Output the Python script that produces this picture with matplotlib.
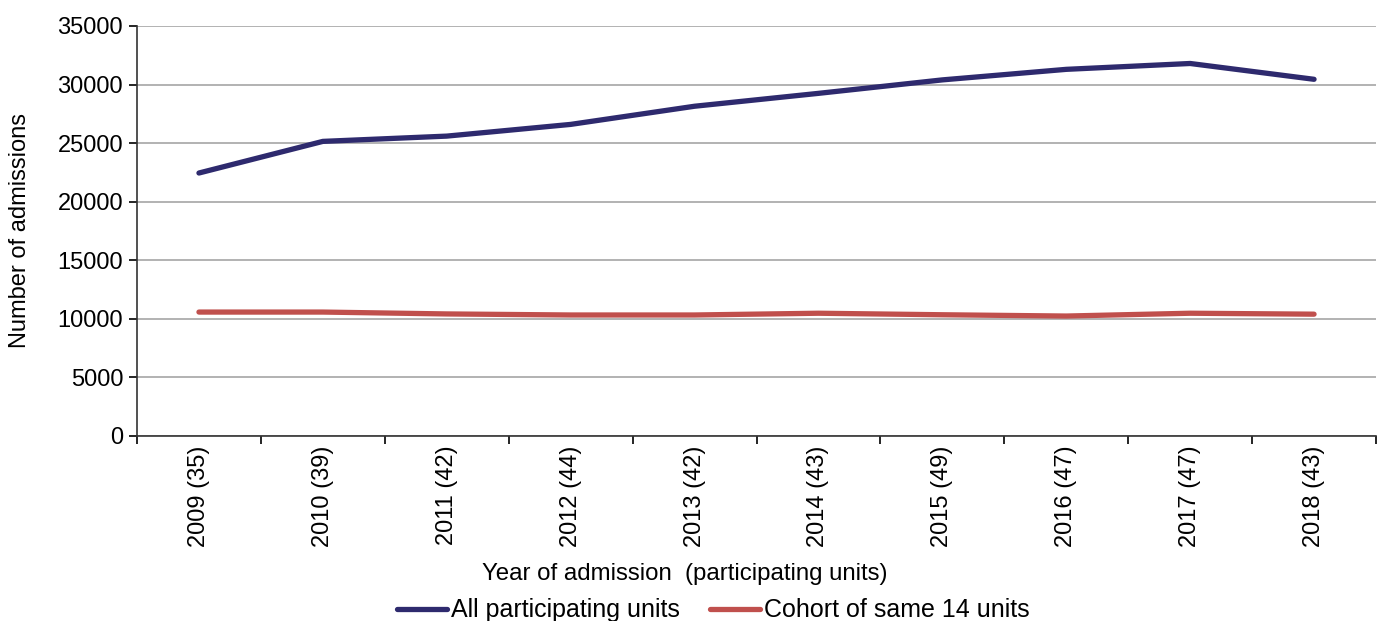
import numpy as np
import matplotlib
matplotlib.use('Agg')
import matplotlib.pyplot as plt

plt.rcParams['font.family'] = ['Liberation Sans', 'DejaVu Sans']

years = ['2009 (35)', '2010 (39)', '2011 (42)', '2012 (44)', '2013 (42)',
         '2014 (43)', '2015 (49)', '2016 (47)', '2017 (47)', '2018 (43)']
all_units = [22450, 25150, 25600, 26600, 28150, 29250, 30400, 31300, 31800, 30450]
cohort = [10580, 10580, 10420, 10330, 10330, 10480, 10350, 10240, 10480, 10400]

fig = plt.figure(figsize=(13.84, 6.21), dpi=100)
ax = fig.add_axes([137/1384, 1 - 436/621, (1376 - 137)/1384, (436 - 26)/621])

x = np.arange(len(years)) + 0.5
ax.plot(x, all_units, color='#2e2a6e', lw=3.8, solid_capstyle='round',
        label='All participating units')
ax.plot(x, cohort, color='#c0504d', lw=3.8, solid_capstyle='round',
        label='Cohort of same 14 units')

ax.set_xlim(0, len(years))
ax.set_ylim(0, 35000)
ax.set_yticks(range(0, 35001, 5000))
ax.yaxis.grid(True, color='#a6a6a6', lw=1.2)
ax.set_axisbelow(True)

ax.set_xticks(np.arange(len(years) + 1))
ax.set_xticklabels([])
ax.set_xticks(x, minor=True)
ax.set_xticklabels(years, minor=True, rotation=90, fontsize=17)
ax.tick_params(axis='x', which='minor', length=0, pad=7)
ax.tick_params(axis='x', which='major', length=6, direction='out', width=1.2)
ax.tick_params(axis='y', length=6, width=1.2, labelsize=17, pad=4)

for s in ['top', 'right']:
    ax.spines[s].set_visible(False)
for s in ['left', 'bottom']:
    ax.spines[s].set_linewidth(1.2)
    ax.spines[s].set_color('#333333')

ax.set_ylabel('Number of admissions', fontsize=17, labelpad=19)
ax.set_xlabel('Year of admission  (participating units)', fontsize=17.3)
ax.xaxis.set_label_coords(0.442, -0.31)

ax.legend(loc='center', bbox_to_anchor=(0.465, -0.425), ncol=2, frameon=False,
          fontsize=18, handlelength=2.0, handletextpad=0.15, columnspacing=1.2,
          borderpad=0)

fig.savefig('out.png', dpi=100)
